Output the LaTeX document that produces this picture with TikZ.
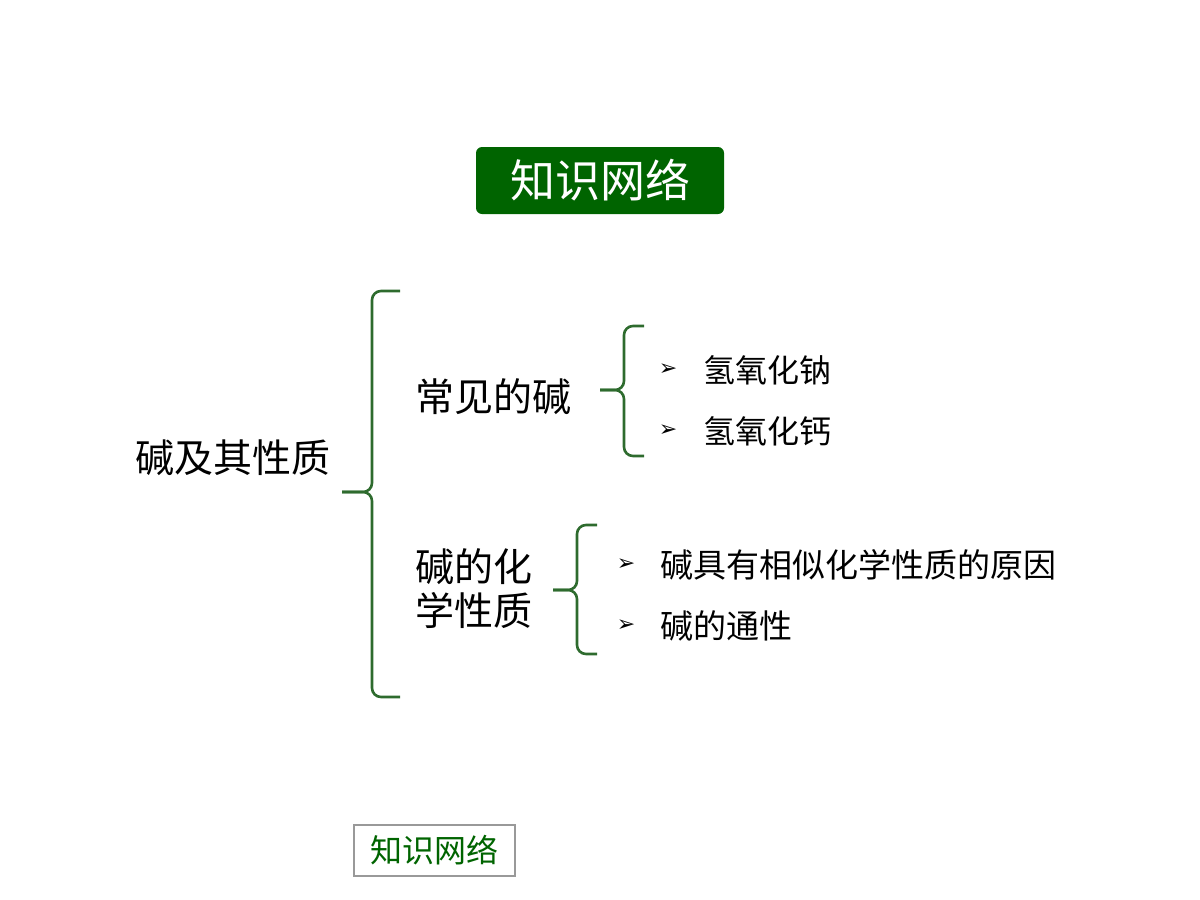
\documentclass[tikz,border=0pt]{standalone}
\usepackage{fontspec}
\newfontfamily\cjk{Noto Sans CJK SC}
\newfontfamily\djsym{DejaVu Sans}
\definecolor{dg}{HTML}{006400}
\definecolor{bg}{HTML}{2E6B2E}
\begin{document}
\begin{tikzpicture}[x=1pt,y=-1pt,
  brace/.style={draw=bg,line width=2.6pt,rounded corners=9pt},
  txt/.style={inner sep=0,anchor=west,font=\cjk\fontsize{39}{44}\selectfont},
  item/.style={inner sep=0,anchor=west,font=\cjk\fontsize{32}{36}\selectfont},
  arr/.style={inner sep=0,font=\djsym\fontsize{22}{24}\selectfont}]
\useasboundingbox (0,0) rectangle (1200,900);
\node[fill=dg,rounded corners=6pt,minimum width=248pt,minimum height=67pt,text=white,font=\cjk\fontsize{45}{50}\selectfont] (title) at (600,180.5) {知识网络};
\node[txt] (root) at (135,458) {碱及其性质};
\draw[brace] (400,291) -- (372,291) -- (372,492) -- (342,492);
\draw[brace] (400,697) -- (372,697) -- (372,492) -- (342,492);
\node[txt] (a) at (415,397) {常见的碱};
\draw[brace] (644,326) -- (624,326) -- (624,390) -- (600,390);
\draw[brace] (644,456) -- (624,456) -- (624,390) -- (600,390);
\node[arr] (a1a) at (668,370) {➢};
\node[item] (a1) at (703,370) {氢氧化钠};
\node[arr] (a2a) at (668,431) {➢};
\node[item] (a2) at (703,431) {氢氧化钙};
\node[txt,align=left] (b) at (415,589) {碱的化\\学性质};
\draw[brace] (597,525) -- (577,525) -- (577,590) -- (553,590);
\draw[brace] (597,654) -- (577,654) -- (577,590) -- (553,590);
\node[arr] (b1a) at (626,565) {➢};
\node[item,font=\cjk\fontsize{33}{36}\selectfont] (b1) at (660,565) {碱具有相似化学性质的原因};
\node[arr] (b2a) at (626,626) {➢};
\node[item,font=\cjk\fontsize{33}{36}\selectfont] (b2) at (660,626) {碱的通性};
\node[draw=gray!80,line width=2pt,minimum width=161pt,minimum height=51pt,text=dg,font=\cjk\fontsize{32}{36}\selectfont] (foot) at (434.5,850.5) {知识网络};
\end{tikzpicture}
\end{document}
